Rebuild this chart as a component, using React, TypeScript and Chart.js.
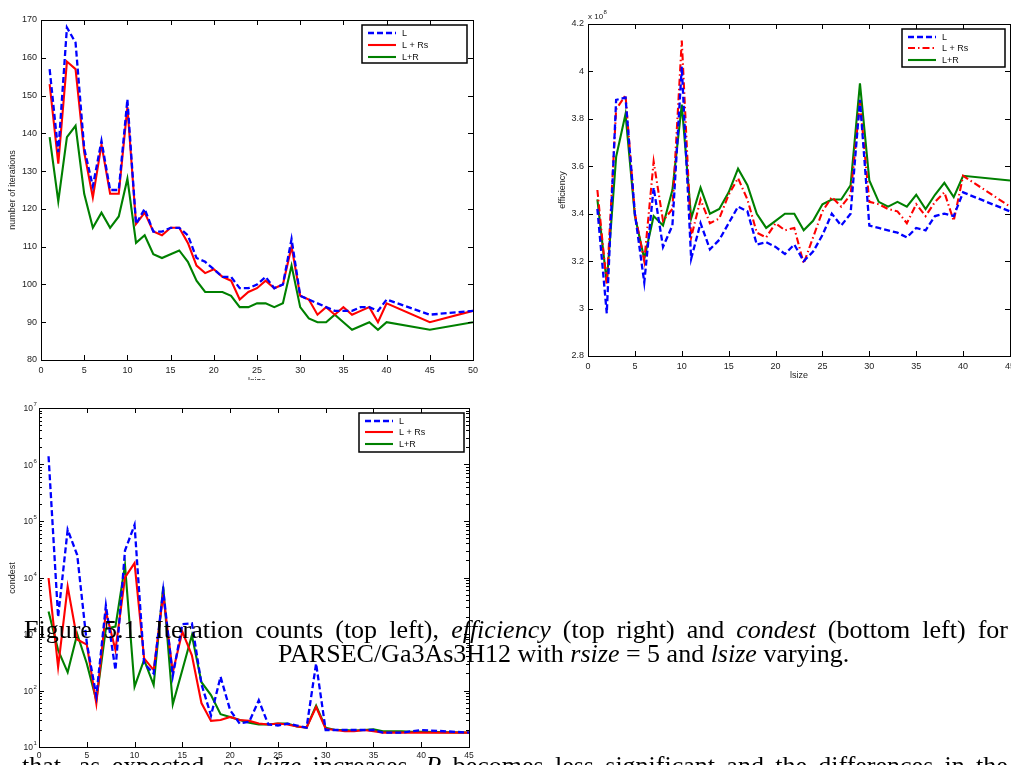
import React, { useEffect, useRef } from "react";
import { Chart, registerables } from "chart.js";

Chart.register(...registerables);

const SANS = '"Liberation Sans", Arial, Helvetica, sans-serif';
const SERIF = '"Liberation Serif", "Times New Roman", Times, serif';

const seriesNames = ["L", "L + Rs", "L+R"];

// ---------- top left: number of iterations ----------
const iterLsize = [1, 2, 3, 4, 5, 6, 7, 8, 9, 10, 11, 12, 13, 14, 15, 16, 17, 18, 19, 20, 21, 22, 23, 24, 25, 26, 27, 28, 29, 30, 31, 32, 33, 34, 35, 36, 37, 38, 39, 40, 45, 50];
const iterL = [157, 135, 168, 164, 136, 126, 138, 125, 125, 149, 116, 120, 114, 114, 115, 115, 113, 107, 106, 104, 102, 102, 99, 99, 100, 102, 99, 100, 112, 97, 96, 95, 94, 93, 93, 93, 94, 94, 93, 96, 92, 93];
const iterLRs = [153, 132, 159, 157, 135, 123, 137, 124, 124, 147, 116, 119, 114, 113, 115, 115, 111, 105, 103, 104, 102, 101, 96, 98, 99, 101, 99, 100, 110, 97, 96, 92, 94, 92, 94, 92, 93, 94, 90, 95, 90, 93];
const iterLR = [139, 122, 139, 142, 124, 115, 119, 115, 118, 128, 111, 113, 108, 107, 108, 109, 106, 101, 98, 98, 98, 97, 94, 94, 95, 95, 94, 95, 105, 94, 91, 90, 90, 92, 90, 88, 89, 90, 88, 90, 88, 90];
const iterXTicks = [0, 5, 10, 15, 20, 25, 30, 35, 40, 45, 50];
const iterYTicks = [80, 90, 100, 110, 120, 130, 140, 150, 160, 170];

// ---------- top right: efficiency (x 10^8) ----------
const effLsize = [1, 2, 3, 4, 5, 6, 7, 8, 9, 10, 11, 12, 13, 14, 15, 16, 17, 18, 19, 20, 21, 22, 23, 24, 25, 26, 27, 28, 29, 30, 31, 32, 33, 34, 35, 36, 37, 38, 39, 40, 45];
const effL = [3.42, 2.98, 3.88, 3.89, 3.40, 3.11, 3.51, 3.26, 3.35, 4.02, 3.21, 3.36, 3.25, 3.29, 3.36, 3.43, 3.41, 3.27, 3.28, 3.26, 3.23, 3.27, 3.20, 3.24, 3.31, 3.40, 3.35, 3.40, 3.88, 3.35, 3.34, 3.33, 3.32, 3.30, 3.34, 3.33, 3.39, 3.40, 3.39, 3.49, 3.41];
const effLRs = [3.50, 3.10, 3.84, 3.90, 3.40, 3.20, 3.62, 3.37, 3.42, 4.13, 3.30, 3.46, 3.36, 3.38, 3.48, 3.55, 3.46, 3.32, 3.30, 3.36, 3.33, 3.34, 3.19, 3.30, 3.41, 3.47, 3.43, 3.48, 3.87, 3.45, 3.44, 3.42, 3.41, 3.36, 3.44, 3.39, 3.45, 3.49, 3.37, 3.56, 3.43];
const effLR = [3.46, 3.11, 3.64, 3.82, 3.39, 3.21, 3.39, 3.35, 3.50, 3.86, 3.38, 3.51, 3.40, 3.42, 3.49, 3.59, 3.52, 3.40, 3.34, 3.37, 3.40, 3.40, 3.33, 3.37, 3.44, 3.46, 3.46, 3.52, 3.95, 3.54, 3.45, 3.43, 3.45, 3.43, 3.48, 3.42, 3.48, 3.53, 3.47, 3.56, 3.54];
const effXTicks = [0, 5, 10, 15, 20, 25, 30, 35, 40, 45];
const effYTicks = [2.8, 3.0, 3.2, 3.4, 3.6, 3.8, 4.0, 4.2];

// ---------- bottom left: condest (log) ----------
const condLsize = [1, 2, 3, 4, 5, 6, 7, 8, 9, 10, 11, 12, 13, 14, 15, 16, 17, 18, 19, 20, 21, 22, 23, 24, 25, 26, 27, 28, 29, 30, 31, 32, 33, 34, 35, 36, 37, 38, 39, 40, 45];
const condL = [1.4e6, 2000, 7e4, 2.5e4, 700, 80, 3200, 230, 3e4, 8.5e4, 300, 200, 6000, 180, 1500, 1550, 130, 36, 175, 45, 26, 28, 67, 25, 24, 26, 24, 22, 300, 20, 20, 20, 20, 20, 20, 18, 18, 18, 19, 20, 18];
const condLRs = [9800, 260, 6900, 800, 650, 59, 2500, 520, 1e4, 1.8e4, 370, 230, 5000, 210, 1100, 420, 60, 29, 30, 34, 30, 29, 26, 25, 26, 25, 23, 22, 51, 21, 20, 19, 19, 20, 19, 18, 18, 18, 18, 18, 18];
const condLR = [2500, 520, 210, 1000, 300, 67, 1250, 1350, 1.65e4, 117, 350, 125, 6900, 57, 230, 950, 140, 83, 38, 34, 30, 27, 25, 25, 26, 26, 23, 22, 54, 22, 20, 20, 19.5, 20, 20.5, 19, 19, 19, 18.5, 18.5, 18];
const condXTicks = [0, 5, 10, 15, 20, 25, 30, 35, 40, 45];
const condYTicks = [1e1, 1e2, 1e3, 1e4, 1e5, 1e6, 1e7];

type LineStyle = { color: string; dash: number[]; width: number };
const STYLE_L: LineStyle = { color: "#0000ff", dash: [6, 3], width: 2.3 };
const STYLE_LRS: LineStyle = { color: "#ff0000", dash: [], width: 2.1 };
const STYLE_LRS_DD: LineStyle = { color: "#ff0000", dash: [7, 3, 1.5, 3], width: 2.1 };
const STYLE_LR: LineStyle = { color: "#008000", dash: [], width: 2.1 };

type Panel = {
  left: number; top: number; width: number; height: number;
  area: { left: number; top: number; right: number; bottom: number };
  xs: number[]; series: number[][]; styles: LineStyle[];
  xMin: number; xMax: number; xTicks: number[];
  yMin: number; yMax: number; yTicks: number[]; yLog: boolean;
  xTickSize: number; xTickPad: number;
  legend: { x: number; y: number; w: number; h: number; rows: number[] };
  xTitle: { text: string; x: number; y: number };
  yTitle: { text: string; x: number; y: number };
  exponent?: { x: number; y: number; text: string };
};

const panels: Panel[] = [
  {
    left: 0, top: 0, width: 490, height: 380,
    area: { left: 41, top: 20, right: 473, bottom: 360 },
    xs: iterLsize, series: [iterL, iterLRs, iterLR], styles: [STYLE_L, STYLE_LRS, STYLE_LR],
    xMin: 0, xMax: 50, xTicks: iterXTicks,
    yMin: 80, yMax: 170, yTicks: iterYTicks, yLog: false,
    xTickSize: 9, xTickPad: 5,
    legend: { x: 362, y: 25, w: 105, h: 38, rows: [8, 20, 32] },
    xTitle: { text: "lsize", x: 257, y: 377 },
    yTitle: { text: "number of iterations", x: 13, y: 190 },
  },
  {
    left: 530, top: 0, width: 481, height: 385,
    area: { left: 588, top: 24, right: 1010, bottom: 356 },
    xs: effLsize, series: [effL, effLRs, effLR], styles: [STYLE_L, STYLE_LRS_DD, STYLE_LR],
    xMin: 0, xMax: 45, xTicks: effXTicks,
    yMin: 2.8, yMax: 4.2, yTicks: effYTicks, yLog: false,
    xTickSize: 9, xTickPad: 5,
    legend: { x: 902, y: 29, w: 103, h: 38, rows: [8, 19, 31] },
    xTitle: { text: "lsize", x: 799, y: 371 },
    yTitle: { text: "efficiency", x: 563, y: 190 },
    exponent: { x: 588, y: 19, text: "8" },
  },
  {
    left: 0, top: 390, width: 490, height: 375,
    area: { left: 39, top: 408, right: 469, bottom: 747 },
    xs: condLsize, series: [condL, condLRs, condLR], styles: [STYLE_L, STYLE_LRS, STYLE_LR],
    xMin: 0, xMax: 45, xTicks: condXTicks,
    yMin: 10, yMax: 1e7, yTicks: condYTicks, yLog: true,
    xTickSize: 8.5, xTickPad: 4,
    legend: { x: 359, y: 413, w: 105, h: 39, rows: [8, 19, 31] },
    xTitle: { text: "", x: 254, y: 770 },
    yTitle: { text: "condest", x: 13, y: 578 },
  },
];

function fmtTick(v: number): string {
  return String(Math.round(v * 10) / 10);
}

function makeFramePlugin(p: Panel) {
  return {
    id: "matlabFrame",
    afterDraw(chart: any) {
      const ctx: CanvasRenderingContext2D = chart.ctx;
      const a = chart.chartArea;
      const xs = chart.scales.x;
      const ys = chart.scales.y;
      const ox = p.left;
      const oy = p.top;
      ctx.save();
      ctx.setLineDash([]);
      ctx.strokeStyle = "#000";
      ctx.lineWidth = 1;
      const TL = 5;
      ctx.beginPath();
      p.xTicks.forEach((v) => {
        const px = Math.round(xs.getPixelForValue(v)) + 0.5;
        ctx.moveTo(px, a.bottom); ctx.lineTo(px, a.bottom - TL);
        ctx.moveTo(px, a.top); ctx.lineTo(px, a.top + TL);
      });
      p.yTicks.forEach((v) => {
        const py = Math.round(ys.getPixelForValue(v)) + 0.5;
        ctx.moveTo(a.left, py); ctx.lineTo(a.left + TL, py);
        ctx.moveTo(a.right, py); ctx.lineTo(a.right - TL, py);
      });
      if (p.yLog) {
        for (let i = 0; i < p.yTicks.length - 1; i++) {
          for (let k = 2; k <= 9; k++) {
            const py = Math.round(ys.getPixelForValue(p.yTicks[i] * k)) + 0.5;
            ctx.moveTo(a.left, py); ctx.lineTo(a.left + 3, py);
            ctx.moveTo(a.right, py); ctx.lineTo(a.right - 3, py);
          }
        }
      }
      ctx.stroke();
      ctx.strokeRect(Math.round(a.left) + 0.5, Math.round(a.top) + 0.5, Math.round(a.right - a.left), Math.round(a.bottom - a.top));

      // log axis labels 10^n
      if (p.yLog) {
        ctx.fillStyle = "#222";
        p.yTicks.forEach((v) => {
          const py = ys.getPixelForValue(v);
          const e = Math.round(Math.log10(v));
          ctx.font = `8.5px ${SANS}`;
          ctx.textAlign = "right";
          ctx.textBaseline = "middle";
          ctx.fillText("10", a.left - 6, py + 1);
          ctx.font = `6px ${SANS}`;
          ctx.textAlign = "left";
          ctx.textBaseline = "alphabetic";
          ctx.fillText(String(e), a.left - 5.5, py - 2);
        });
      }

      // legend
      const L = p.legend;
      const lx = L.x - ox;
      const ly = L.y - oy;
      ctx.fillStyle = "#fff";
      ctx.fillRect(lx, ly, L.w, L.h);
      ctx.strokeStyle = "#000";
      ctx.lineWidth = 1.5;
      ctx.strokeRect(lx, ly, L.w, L.h);
      ctx.font = `9px ${SANS}`;
      ctx.textAlign = "left";
      ctx.textBaseline = "middle";
      seriesNames.forEach((name, i) => {
        const st = p.styles[i];
        const ry = ly + L.rows[i];
        ctx.strokeStyle = st.color;
        ctx.lineWidth = st.width;
        ctx.setLineDash(st.dash);
        ctx.beginPath();
        ctx.moveTo(lx + 6, ry);
        ctx.lineTo(lx + 34, ry);
        ctx.stroke();
        ctx.setLineDash([]);
        ctx.fillStyle = "#111";
        ctx.fillText(name, lx + 40, ry + 0.5);
      });

      // axis titles
      ctx.fillStyle = "#222";
      ctx.font = `9px ${SANS}`;
      if (p.xTitle.text) {
        ctx.textAlign = "center";
        ctx.textBaseline = "top";
        ctx.fillText(p.xTitle.text, p.xTitle.x - ox, p.xTitle.y - oy);
      }
      ctx.save();
      ctx.translate(p.yTitle.x - ox, p.yTitle.y - oy);
      ctx.rotate(-Math.PI / 2);
      ctx.textAlign = "center";
      ctx.textBaseline = "middle";
      ctx.fillText(p.yTitle.text, 0, 0);
      ctx.restore();

      if (p.exponent) {
        const ex = p.exponent.x - ox;
        const ey = p.exponent.y - oy;
        ctx.font = `8px ${SANS}`;
        ctx.textAlign = "left";
        ctx.textBaseline = "alphabetic";
        ctx.fillText("x 10", ex, ey);
        const w = ctx.measureText("x 10").width;
        ctx.font = `6px ${SANS}`;
        ctx.fillText(p.exponent.text, ex + w + 0.5, ey - 5);
      }
      ctx.restore();
    },
  };
}

function buildConfig(p: Panel): any {
  const yAxisWidth = p.area.left - p.left;
  const xAxisHeight = p.top + p.height - p.area.bottom;
  return {
    type: "line",
    data: {
      datasets: p.series.map((ys, i) => ({
        label: seriesNames[i],
        data: p.xs.map((x, j) => ({ x, y: ys[j] })),
        borderColor: p.styles[i].color,
        borderDash: p.styles[i].dash,
        borderWidth: p.styles[i].width,
        pointRadius: 0,
        tension: 0,
        fill: false,
      })),
    },
    options: {
      animation: false,
      responsive: false,
      devicePixelRatio: 1,
      layout: {
        padding: {
          left: 0,
          bottom: 0,
          top: p.area.top - p.top,
          right: p.left + p.width - p.area.right,
        },
      },
      plugins: { legend: { display: false }, tooltip: { enabled: false }, title: { display: false } },
      scales: {
        x: {
          type: "linear",
          min: p.xMin,
          max: p.xMax,
          afterBuildTicks: (s: any) => { s.ticks = p.xTicks.map((v) => ({ value: v })); },
          ticks: {
            color: "#222",
            font: { family: SANS, size: p.xTickSize },
            padding: p.xTickPad,
            maxRotation: 0,
            minRotation: 0,
            autoSkip: false,
            callback: (v: any) => String(v),
          },
          grid: { display: false, drawTicks: false },
          border: { display: false },
          afterFit: (s: any) => { s.height = xAxisHeight; s.paddingLeft = 0; s.paddingRight = 0; },
        },
        y: {
          type: p.yLog ? "logarithmic" : "linear",
          min: p.yMin,
          max: p.yMax,
          afterBuildTicks: (s: any) => { s.ticks = p.yTicks.map((v) => ({ value: v })); },
          ticks: {
            display: !p.yLog,
            color: "#222",
            font: { family: SANS, size: 9 },
            padding: 4,
            autoSkip: false,
            callback: (v: any) => fmtTick(Number(v)),
          },
          grid: { display: false, drawTicks: false },
          border: { display: false },
          afterFit: (s: any) => { s.width = yAxisWidth; s.paddingTop = 0; s.paddingBottom = 0; },
        },
      },
    },
    plugins: [makeFramePlugin(p)],
  };
}

function PanelChart({ p }: { p: Panel }) {
  const ref = useRef<HTMLCanvasElement>(null);
  useEffect(() => {
    const chart = new Chart(ref.current as HTMLCanvasElement, buildConfig(p));
    return () => chart.destroy();
  }, [p]);
  return (
    <canvas
      ref={ref}
      width={p.width}
      height={p.height}
      style={{ position: "absolute", left: p.left, top: p.top, width: p.width, height: p.height }}
    />
  );
}

const textBase: React.CSSProperties = {
  position: "absolute",
  fontFamily: SERIF,
  fontSize: 26,
  lineHeight: "24px",
  color: "#000",
  whiteSpace: "nowrap",
};

const justified: React.CSSProperties = {
  ...textBase,
  display: "flex",
  justifyContent: "space-between",
};

export default function App() {
  return (
    <div
      style={{
        position: "absolute",
        left: 0,
        top: 0,
        width: 1011,
        height: 765,
        overflow: "hidden",
        background: "#fff",
      }}
    >
      {panels.map((p, i) => (
        <PanelChart key={i} p={p} />
      ))}
      <div style={{ ...justified, left: 24, top: 618, width: 984 }}>
        <span>Figure</span>
        <span>5.1.</span>
        <span>Iteration</span>
        <span>counts</span>
        <span>(top</span>
        <span>left),</span>
        <i>efficiency</i>
        <span>(top</span>
        <span>right)</span>
        <span>and</span>
        <i>condest</i>
        <span>(bottom</span>
        <span>left)</span>
        <span>for</span>
      </div>
      <div style={{ ...textBase, left: 278, top: 642 }}>
        PARSEC/Ga3As3H12 with <i>rsize</i> = 5 and <i>lsize</i> varying.
      </div>
      <div style={{ ...justified, left: 22, top: 754, width: 986 }}>
        <span>that,</span>
        <span>as</span>
        <span>expected,</span>
        <span>as</span>
        <i>lsize</i>
        <span>increases,</span>
        <i>R</i>
        <span>becomes</span>
        <span>less</span>
        <span>significant</span>
        <span>and</span>
        <span>the</span>
        <span>differences</span>
        <span>in</span>
        <span>the</span>
      </div>
    </div>
  );
}
